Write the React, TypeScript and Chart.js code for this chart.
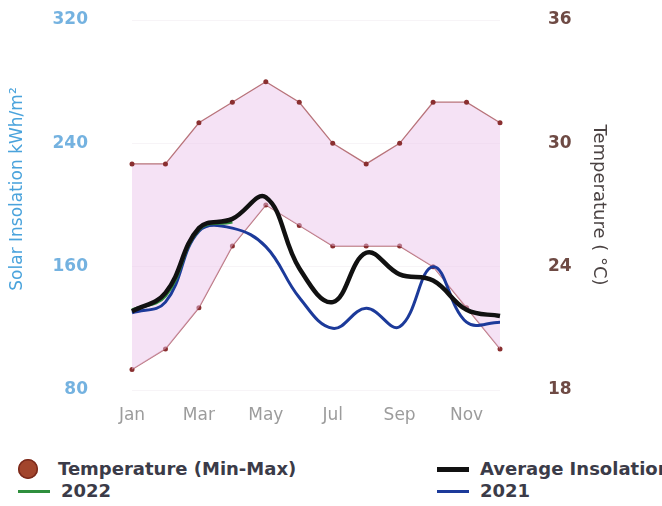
import React, { useEffect, useRef } from "react";
import { Chart, registerables } from "chart.js";

Chart.register(...registerables);

const months = ["Jan", "Feb", "Mar", "Apr", "May", "Jun", "Jul", "Aug", "Sep", "Oct", "Nov", "Dec"];
const shownMonthIdx = [0, 2, 4, 6, 8, 10];

const tempMax = [29, 29, 31, 32, 33, 32, 30, 29, 30, 32, 32, 31];
const tempMin = [19, 20, 22, 25, 27, 26, 25, 25, 25, 24, 22, 20];

const avgInsolation = [131, 143, 185, 191, 205, 159, 137, 169, 155, 151, 132, 128];
const ins2022 = [132, 141, 184, 189, null, null, null, null, null, null, null, null];
const ins2021 = [130, 137, 183, 185, 173, 140, 120, 133, 121, 160, 124, 124];

const leftTicks = [80, 160, 240, 320];
const rightTicks = [18, 24, 30, 36];

const leftTitle = "Solar Insolation kWh/m²";
const rightTitle = "Temperature ( °C)";

const legendItems = [
  { label: "Temperature (Min-Max)", kind: "dot", color: "#a2452c", x: 18, y: 469 },
  { label: "2022", kind: "line", color: "#2f8f3d", x: 18, y: 491, w: 3 },
  { label: "Average Insolation", kind: "line", color: "#111111", x: 437, y: 469, w: 5 },
  { label: "2021", kind: "line", color: "#1c3a9a", x: 437, y: 491, w: 3 },
];

const leftTitlePlugin = {
  id: "leftTitle",
  afterDraw(chart: any) {
    const ctx = chart.ctx;
    const area = chart.chartArea;
    ctx.save();
    ctx.translate(18, (area.top + area.bottom) / 2 - 16);
    ctx.rotate(-Math.PI / 2);
    ctx.textAlign = "center";
    ctx.textBaseline = "middle";
    ctx.font = "17px 'DejaVu Sans'";
    ctx.fillStyle = "#4aa3dc";
    ctx.fillText(leftTitle, 0, 0);
    ctx.restore();
  },
};

export default function App() {
  const ref = useRef<HTMLCanvasElement | null>(null);

  useEffect(() => {
    document.body.style.margin = "0";
    const canvas = ref.current;
    if (!canvas) return;
    const chart = new Chart(canvas, {
      type: "line",
      plugins: [leftTitlePlugin],
      data: {
        labels: months,
        datasets: [
          {
            label: "Average Insolation",
            data: avgInsolation,
            yAxisID: "y",
            borderColor: "#111111",
            borderWidth: 4.5,
            pointRadius: 0,
            tension: 0.4,
            fill: false,
          },
          {
            label: "2022",
            data: ins2022,
            yAxisID: "y",
            borderColor: "#2f8f3d",
            borderWidth: 3,
            pointRadius: 0,
            tension: 0.4,
            fill: false,
          },
          {
            label: "2021",
            data: ins2021,
            yAxisID: "y",
            borderColor: "#1c3a9a",
            borderWidth: 3,
            pointRadius: 0,
            tension: 0.4,
            fill: false,
          },
          {
            label: "Temperature Max",
            data: tempMax,
            yAxisID: "y1",
            borderColor: "#b8737a",
            borderWidth: 1.3,
            pointRadius: 2.5,
            pointBackgroundColor: "#8a2f30",
            pointBorderColor: "#8a2f30",
            pointBorderWidth: 0,
            tension: 0,
            fill: "+1",
            backgroundColor: "rgba(235,195,235,0.48)",
          },
          {
            label: "Temperature Min",
            data: tempMin,
            yAxisID: "y1",
            borderColor: "#b8737a",
            borderWidth: 1.3,
            pointRadius: 2.5,
            pointBackgroundColor: "#8a2f30",
            pointBorderColor: "#8a2f30",
            pointBorderWidth: 0,
            tension: 0,
            fill: false,
          },
        ],
      },
      options: {
        responsive: false,
        maintainAspectRatio: false,
        animation: false,
        layout: { padding: { top: 20, left: 0, right: 0, bottom: 0 } },
        plugins: {
          legend: { display: false },
          tooltip: { enabled: false },
        },
        scales: {
          x: {
            offset: false,
            grid: { display: false, drawTicks: false },
            border: { display: false },
            afterFit: (s: any) => {
              s.height = 50;
              s.paddingLeft = 0;
              s.paddingRight = 0;
            },
            ticks: {
              autoSkip: false,
              maxRotation: 0,
              padding: 15,
              color: "#9c9c9c",
              font: { family: "DejaVu Sans", size: 17 },
              callback: (_v: any, i: number) => (shownMonthIdx.includes(i) ? months[i] : ""),
            },
          },
          y: {
            position: "left",
            min: leftTicks[0],
            max: leftTicks[leftTicks.length - 1],
            afterBuildTicks: (s: any) => {
              s.ticks = leftTicks.map((v) => ({ value: v }));
            },
            afterFit: (s: any) => {
              s.width = 132;
              s.paddingTop = 0;
              s.paddingBottom = 0;
            },
            grid: { color: "rgba(120,60,120,0.06)", drawTicks: false },
            border: { display: false },
            ticks: {
              padding: 44,
              color: "#74b2e0",
              font: { family: "DejaVu Sans", size: 17, weight: "bold" },
            },
            title: { display: false },
          },
          y1: {
            position: "right",
            min: rightTicks[0],
            max: rightTicks[rightTicks.length - 1],
            afterBuildTicks: (s: any) => {
              s.ticks = rightTicks.map((v) => ({ value: v }));
            },
            afterFit: (s: any) => {
              s.width = 162;
              s.paddingTop = 0;
              s.paddingBottom = 0;
            },
            grid: { drawOnChartArea: false, drawTicks: false },
            border: { display: false },
            ticks: {
              padding: 48,
              color: "#6e4a44",
              font: { family: "DejaVu Sans", size: 17, weight: "bold" },
            },
            title: {
              display: true,
              text: rightTitle,
              color: "#4a4242",
              font: { family: "DejaVu Sans", size: 18 },
              padding: { top: 53, bottom: 0 },
            },
          },
        },
      },
    });
    return () => chart.destroy();
  }, []);

  return (
    <div style={{ position: "relative", width: 662, height: 506, overflow: "hidden", background: "#fff" }}>
      <canvas ref={ref} width={662} height={440} style={{ width: 662, height: 440, display: "block" }} />
      {legendItems.map((it) => (
        <div key={it.label}>
          {it.kind === "dot" ? (
            <div
              style={{
                position: "absolute",
                left: it.x,
                top: it.y - 10,
                width: 20,
                height: 20,
                borderRadius: "50%",
                background: it.color,
                boxShadow: "inset 0 0 0 1.5px #7a2a1c",
              }}
            />
          ) : (
            <div
              style={{
                position: "absolute",
                left: it.x,
                top: it.y - (it.w as number) / 2,
                width: 32,
                height: it.w,
                background: it.color,
              }}
            />
          )}
          <div
            style={{
              position: "absolute",
              left: it.x + (it.kind === "dot" ? 40 : 43),
              top: it.y - 11,
              height: 22,
              lineHeight: "22px",
              whiteSpace: "nowrap",
              fontFamily: "DejaVu Sans",
              fontWeight: "bold",
              fontSize: 18,
              color: "#3b3b48",
            }}
          >
            {it.label}
          </div>
        </div>
      ))}
    </div>
  );
}
